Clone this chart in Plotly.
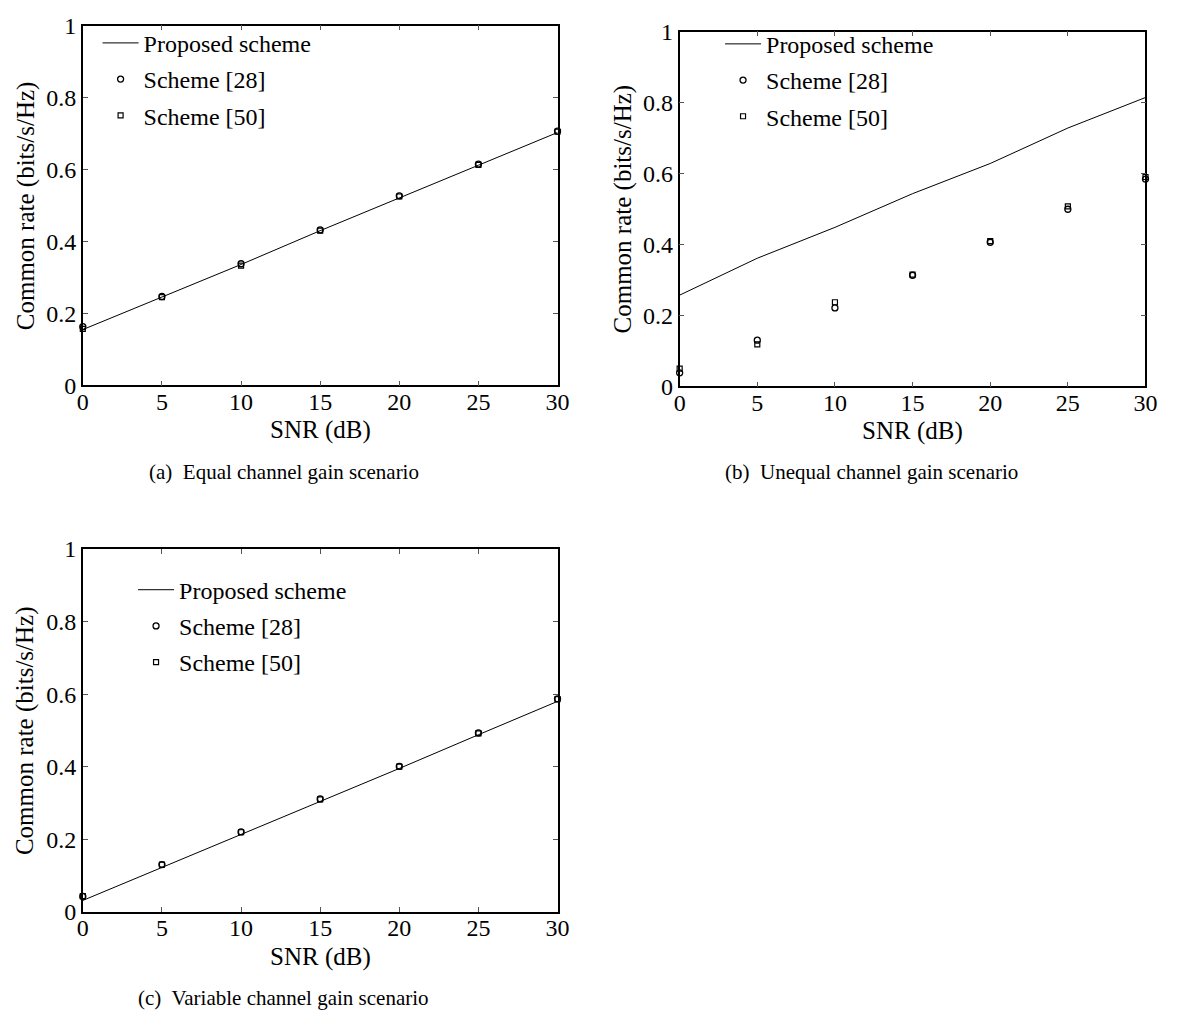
import plotly.graph_objects as go

# SNR grid shared by all three scenarios
snr_db = [0, 5, 10, 15, 20, 25, 30]

# (a) Equal channel gain scenario
equal_proposed = [0.155, 0.245, 0.336, 0.430, 0.522, 0.612, 0.703]
equal_scheme28 = [0.163, 0.247, 0.338, 0.432, 0.527, 0.615, 0.707]
equal_scheme50 = [0.157, 0.245, 0.333, 0.430, 0.525, 0.613, 0.705]

# (b) Unequal channel gain scenario
unequal_proposed = [0.257, 0.361, 0.448, 0.543, 0.628, 0.728, 0.814]
unequal_scheme28 = [0.038, 0.130, 0.221, 0.313, 0.406, 0.499, 0.584]
unequal_scheme50 = [0.050, 0.118, 0.237, 0.315, 0.409, 0.507, 0.590]

# (c) Variable channel gain scenario
variable_proposed = [0.031, 0.122, 0.212, 0.302, 0.395, 0.488, 0.580]
variable_scheme28 = [0.042, 0.130, 0.220, 0.311, 0.401, 0.493, 0.587]
variable_scheme50 = [0.043, 0.130, 0.219, 0.310, 0.400, 0.492, 0.586]

series_names = ["Proposed scheme", "Scheme [28]", "Scheme [50]"]
x_ticks = [0, 5, 10, 15, 20, 25, 30]
y_ticks = [0, 0.2, 0.4, 0.6, 0.8, 1]
x_title = "SNR (dB)"
y_title = "Common rate (bits/s/Hz)"
captions = [
    "(a)  Equal channel gain scenario",
    "(b)  Unequal channel gain scenario",
    "(c)  Variable channel gain scenario",
]

W, H = 1190, 1028
SERIF = "Liberation Serif, Times New Roman, serif"
CAPTION_FONT = "Palatino Linotype, Book Antiqua, Palatino, Liberation Serif, serif"
TICK_SIZE = 24
LEGEND_SIZE = 24
TITLE_SIZE = 25


def px_x(p):
    return p / W


def px_y(p):
    return 1 - p / H


# plot boxes in pixels: (left, right, top, bottom)
boxes = [
    (78, 560, 13, 382),
    (684, 1157, 19, 383),
    (78, 560, 550, 922),
]

panels = [
    (equal_proposed, equal_scheme28, equal_scheme50),
    (unequal_proposed, unequal_scheme28, unequal_scheme50),
    (variable_proposed, variable_scheme28, variable_scheme50),
]

fig = go.Figure()
layout = dict(
    width=W,
    height=H,
    margin=dict(l=0, r=0, t=0, b=0),
    paper_bgcolor="white",
    plot_bgcolor="white",
    font=dict(family=SERIF, size=TICK_SIZE, color="black"),
    showlegend=True,
)

legend_pos = [(93, 8), (725, 9), (129, 569)]
annotations = []

for i, ((l, r, t, b), (prop, s28, s50)) in enumerate(zip(boxes, panels)):
    n = "" if i == 0 else str(i + 1)
    xa, ya = "x" + n, "y" + n
    leg = "legend" + n
    fig.add_trace(go.Scatter(
        x=snr_db, y=prop, mode="lines", name=series_names[0],
        line=dict(color="black", width=1), xaxis=xa, yaxis=ya, legend=leg,
        legendgroup=f"p{i}"))
    fig.add_trace(go.Scatter(
        x=snr_db, y=s28, mode="markers", name=series_names[1],
        marker=dict(symbol="circle-open", size=6, color="black",
                    line=dict(width=1.3, color="black")),
        xaxis=xa, yaxis=ya, legend=leg, legendgroup=f"s28_{i}",
        cliponaxis=False))
    fig.add_trace(go.Scatter(
        x=snr_db, y=s50, mode="markers", name=series_names[2],
        marker=dict(symbol="square-open", size=5, color="black",
                    line=dict(width=1.2, color="black")),
        xaxis=xa, yaxis=ya, legend=leg, legendgroup=f"s50_{i}",
        cliponaxis=False))

    axis_common = dict(
        showgrid=False, zeroline=False, showline=True, linecolor="black",
        linewidth=1.5, mirror="ticks", ticks="inside", ticklen=5,
        tickwidth=1, tickcolor="#555555",
        tickfont=dict(family=SERIF, size=TICK_SIZE, color="black"),
    )
    layout["xaxis" + n] = dict(
        axis_common, domain=[px_x(l), px_x(r)], range=[0, 30],
        tickvals=x_ticks, anchor=ya, ticklabelstandoff=-6)
    layout["yaxis" + n] = dict(
        axis_common, domain=[px_y(b), px_y(t)], range=[0, 1],
        tickvals=y_ticks, ticktext=[f"{v:g}" for v in y_ticks], anchor=xa)

    lx, ly = legend_pos[i]
    layout[leg] = dict(
        x=px_x(lx), y=px_y(ly), xanchor="left", yanchor="top",
        bgcolor="rgba(0,0,0,0)", borderwidth=0,
        font=dict(family=SERIF, size=LEGEND_SIZE, color="black"),
        tracegroupgap=2, itemwidth=36,
    )

    # axis titles
    annotations.append(dict(
        text=x_title, x=px_x((l + r) / 2), y=px_y(b + 46),
        xref="paper", yref="paper", showarrow=False,
        font=dict(family=SERIF, size=TITLE_SIZE), xanchor="center",
        yanchor="middle"))
    annotations.append(dict(
        text=y_title, x=px_x(l - 58), y=px_y((t + b) / 2),
        xref="paper", yref="paper", showarrow=False, textangle=-90,
        font=dict(family=SERIF, size=TITLE_SIZE), xanchor="center",
        yanchor="middle"))

caption_pos = [(282, 471), (879, 471), (282, 1011)]
for text, (cx, cy) in zip(captions, caption_pos):
    annotations.append(dict(
        text=text, x=px_x(cx), y=px_y(cy), xref="paper", yref="paper",
        showarrow=False, font=dict(family=CAPTION_FONT, size=21),
        xanchor="center", yanchor="middle"))

layout["annotations"] = annotations
fig.update_layout(**layout)
fig.write_html("out.html")
